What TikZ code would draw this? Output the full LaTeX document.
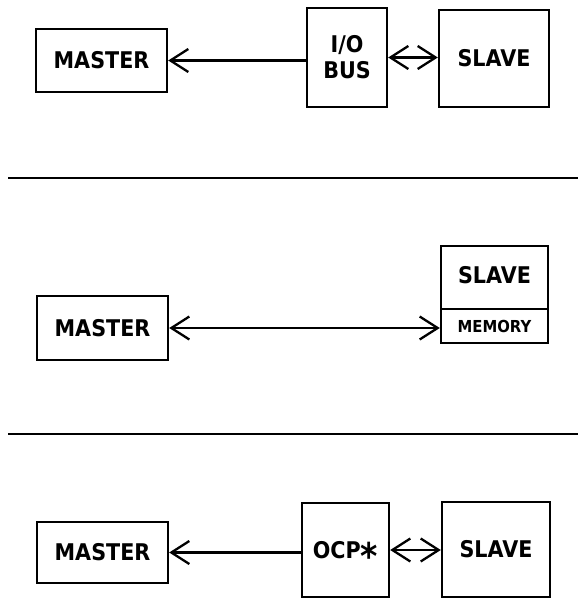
\documentclass[tikz,border=0pt]{standalone}
\usepackage{fontspec}
\newfontfamily\plotfont{DejaVu Sans}[FakeStretch=0.9]
\usetikzlibrary{arrows.meta}
\tikzset{
  box/.style={draw, line width=2.4pt, inner sep=0pt, font=\plotfont\bfseries\fontsize{23}{26}\selectfont, align=center},
  smallbox/.style={box, font=\plotfont\bfseries\fontsize{16.5}{18}\selectfont},
  arr/.style={line width=2.3pt, -{Straight Barb[length=18pt,width=23pt]}},
  dblarr/.style={line width=2.3pt, {Straight Barb[length=18pt,width=23pt]}-{Straight Barb[length=18pt,width=23pt]}},
  sep/.style={line width=2.6pt}
}
\begin{document}
\begin{tikzpicture}[x=1pt,y=-1pt]
\useasboundingbox (0,0) rectangle (578,599);
% top
\node[box, minimum width=131pt, minimum height=63pt] (m1) at (101.5,60.5) {MASTER};
\node[box, minimum width=80pt, minimum height=99pt] (io) at (347,57.5) {I/O\\BUS};
\node[box, minimum width=110pt, minimum height=97pt] (s1) at (494,58.5) {SLAVE};
\draw[arr] (io.west |- m1.east) -- (m1.east);
\draw[dblarr] (io.east) -- (s1.west |- io.east);
% separator 1
\coordinate (a1) at (8,178);
\coordinate (a2) at (578,178);
\draw[sep] (a1) -- (a2);
% middle
\node[box, minimum width=107pt, minimum height=63pt] (s2) at (494.5,277.5) {\raisebox{5pt}{SLAVE}};
\node[smallbox, minimum width=107pt, minimum height=34pt] (mem) at (494.5,326) {MEMORY};
\node[box, minimum width=131pt, minimum height=64pt] (m2) at (102.5,328) {MASTER};
\draw[dblarr] (m2.east) -- (mem.west |- m2.east);
% separator 2
\coordinate (b1) at (8,434);
\coordinate (b2) at (578,434);
\draw[sep] (b1) -- (b2);
% bottom
\node[box, minimum width=131pt, minimum height=61pt] (m3) at (102.5,552.5) {MASTER};
\node[box, minimum width=87pt, minimum height=94pt] (ocp) at (345.5,550) {OCP\raisebox{-0.5em}[0.73em][0pt]{\scalebox{1.6}{*}}};
\node[box, minimum width=108pt, minimum height=95pt] (s3) at (496,549.5) {SLAVE};
\draw[arr] (ocp.west |- m3.east) -- (m3.east);
\draw[dblarr] (ocp.east) -- (s3.west |- ocp.east);
\end{tikzpicture}
\end{document}
